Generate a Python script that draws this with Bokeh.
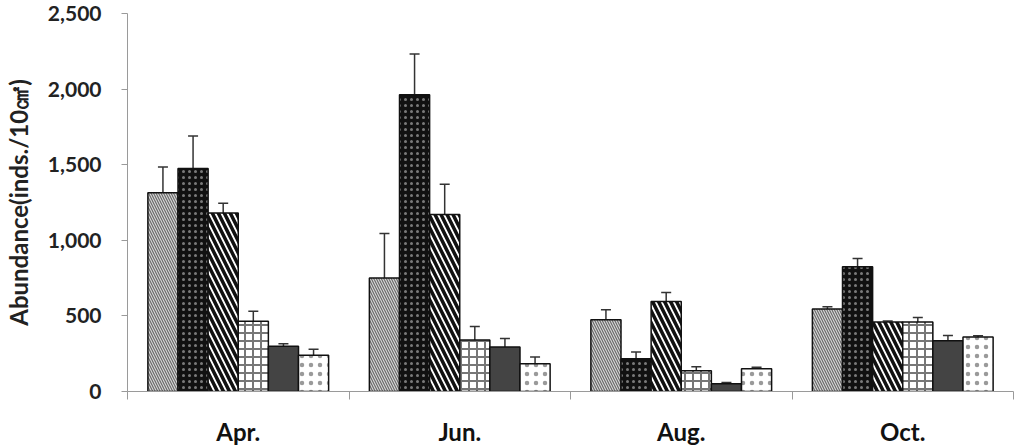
from bokeh.plotting import figure
from bokeh.models import (ColumnDataSource, Range1d, FixedTicker, NumeralTickFormatter,
                          Whisker, TeeHead)
from bokeh.transform import dodge
from bokeh.embed import file_html
from bokeh.resources import INLINE

# ---- data ----
months = ["Apr.", "Jun.", "Aug.", "Oct."]
s1 = [1315, 750, 475, 545]
e1 = [170, 295, 65, 15]
s2 = [1475, 1962, 217, 825]
e2 = [215, 270, 45, 55]
s3 = [1180, 1170, 595, 459]
e3 = [65, 200, 60, 8]
s4 = [465, 340, 138, 460]
e4 = [65, 90, 25, 30]
s5 = [300, 295, 52, 335]
e5 = [15, 55, 7, 35]
s6 = [240, 184, 151, 361]
e6 = [40, 45, 10, 8]
y_ticks = [0, 500, 1000, 1500, 2000, 2500]

series = [s1, s2, s3, s4, s5, s6]
errors = [e1, e2, e3, e4, e5, e6]

styles = [
    dict(fill_color="#d8d8d8", hatch_pattern="\\", hatch_color="#6a6a6a", hatch_scale=5, hatch_weight=1.2),
    dict(fill_color="#111111", hatch_pattern=".", hatch_color="#7a7a7a", hatch_scale=6, hatch_weight=1),
    dict(fill_color="white", hatch_pattern="\\", hatch_color="#111111", hatch_scale=12, hatch_weight=3.5),
    dict(fill_color="white", hatch_pattern="+", hatch_color="#777777", hatch_scale=8, hatch_weight=2),
    dict(fill_color="#444444"),
    dict(fill_color="white", hatch_pattern=".", hatch_color="#9a9a9a", hatch_scale=9, hatch_weight=1),
]

FONT = "Lato"
n_groups = len(months)
centers = [i + 0.5 for i in range(n_groups)]
bar_w = 0.136

p = figure(width=1023, height=448, x_range=Range1d(0, n_groups), y_range=Range1d(0, 2500),
           output_backend="svg", toolbar_location=None,
           min_border_left=126, min_border_right=10, min_border_top=13, min_border_bottom=54)
p.outline_line_color = None
p.xgrid.grid_line_color = None
p.ygrid.grid_line_color = None

for k, (vals, errs) in enumerate(zip(series, errors)):
    off = (k - (len(series) - 1) / 2) * bar_w
    src = ColumnDataSource(dict(
        x=centers, top=vals,
        upper=[v + e for v, e in zip(vals, errs)],
        lower=[v - e for v, e in zip(vals, errs)],
    ))
    p.vbar(x=dodge("x", off), top="top", bottom=0, width=bar_w, source=src,
           line_color="#111111", line_width=1.5, **styles[k])
    w = Whisker(base=dodge("x", off), upper="upper", lower="lower", source=src,
                line_color="#333333", line_width=1.5,
                upper_head=TeeHead(size=10, line_color="#333333", line_width=1.5),
                lower_head=TeeHead(size=6, line_color="#333333", line_width=1.2))
    p.add_layout(w)

# y axis
ya = p.yaxis[0]
ya.ticker = FixedTicker(ticks=y_ticks)
ya.formatter = NumeralTickFormatter(format="0,0")
ya.axis_label = "Abundance(inds./10㎠)"
ya.axis_label_text_font = FONT
ya.axis_label_text_font_style = "bold"
ya.axis_label_text_font_size = "24px"
ya.axis_label_text_color = "#222222"
ya.axis_label_standoff = 12
ya.major_label_text_font = FONT
ya.major_label_text_font_style = "bold"
ya.major_label_text_font_size = "21px"
ya.major_label_text_color = "#222222"
ya.major_label_standoff = 20
ya.axis_line_color = "#9a9a9a"
ya.major_tick_line_color = "#9a9a9a"
ya.major_tick_out = 6
ya.major_tick_in = 0
ya.minor_tick_line_color = None

# x axis
xa = p.xaxis[0]
xa.ticker = FixedTicker(ticks=centers, minor_ticks=list(range(n_groups + 1)))
xa.major_label_overrides = {c: m for c, m in zip(centers, months)}
xa.major_label_text_font = FONT
xa.major_label_text_font_style = "bold"
xa.major_label_text_font_size = "24px"
xa.major_label_text_color = "#111111"
xa.major_label_standoff = 17
xa.major_tick_line_color = None
xa.major_tick_out = 0
xa.major_tick_in = 0
xa.minor_tick_line_color = "#9a9a9a"
xa.minor_tick_out = 8
xa.minor_tick_in = 0
xa.axis_line_color = "#9a9a9a"

open("out.html", "w").write(file_html(p, INLINE))
